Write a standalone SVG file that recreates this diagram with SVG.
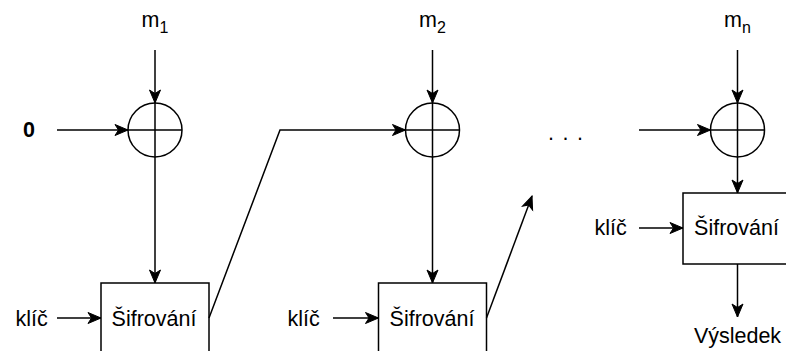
<svg xmlns="http://www.w3.org/2000/svg" width="786" height="351" viewBox="0 0 786 351">
<defs>
<marker id="arr" markerUnits="userSpaceOnUse" viewBox="-14 -7 15 14" refX="0" refY="0" markerWidth="15" markerHeight="14" orient="auto">
<path d="M0,0 L-13,-5.5 L-9.5,0 L-13,5.5 Z" fill="#000" stroke="#000" stroke-width="1" stroke-linejoin="miter"/>
</marker>
</defs>
<style>
text{font-family:"Liberation Sans",Arial,sans-serif;font-size:21.5px;fill:#000}
.c{text-anchor:middle}
.shape{fill:#fff;stroke:#000;stroke-width:1.5}
.ln{fill:none;stroke:#000;stroke-width:1.5}
.edge{fill:none;stroke:#000;stroke-width:1.5;marker-end:url(#arr)}
</style>
<rect width="786" height="351" fill="#fff"/>
<g id="xor1"><circle class="shape" cx="155" cy="130" r="27"/><path class="ln" d="M155,103V157M128,130H182"/></g>
<g id="xor2"><circle class="shape" cx="432.5" cy="130" r="27"/><path class="ln" d="M432.5,103V157M405.5,130H459.5"/></g>
<g id="xor3"><circle class="shape" cx="737.5" cy="130" r="27"/><path class="ln" d="M737.5,103V157M710.5,130H764.5"/></g>
<g id="enc1"><rect class="shape" x="101" y="283" width="108" height="71"/><text class="c" x="154" y="326">Šifrování</text></g>
<g id="enc2"><rect class="shape" x="378.5" y="283" width="108" height="71"/><text class="c" x="432" y="326">Šifrování</text></g>
<g id="enc3"><rect class="shape" x="683" y="193" width="109" height="71"/><text class="c" x="736.5" y="235">Šifrování</text></g>
<g id="labels">
<text class="c" x="155" y="27">m<tspan font-size="16" dy="6">1</tspan></text>
<text class="c" x="432.5" y="27">m<tspan font-size="16" dy="6">2</tspan></text>
<text class="c" x="737.5" y="27">m<tspan font-size="16" dy="6">n</tspan></text>
<text class="c" x="29" y="137" font-weight="bold">0</text>
<text class="c" x="31.5" y="326">klíč</text>
<text class="c" x="303.5" y="326">klíč</text>
<text class="c" x="610.5" y="235">klíč</text>
<text class="c" x="737.5" y="343">Výsledek</text>
<text x="548" y="140" letter-spacing="8.5">...</text>
</g>
<g id="connectors">
<path class="edge" d="M155,50V103"/>
<path class="edge" d="M57,130H128"/>
<path class="edge" d="M155,157V283"/>
<path class="edge" d="M57,318H101"/>
<path class="edge" d="M209,318L280,130H405.5"/>
<path class="edge" d="M432.5,50V103"/>
<path class="edge" d="M432.5,157V283"/>
<path class="edge" d="M333,318H378.5"/>
<path class="edge" d="M486.5,318L532,196"/>
<path class="edge" d="M737.5,50V103"/>
<path class="edge" d="M639,130H710.5"/>
<path class="edge" d="M737.5,157V193"/>
<path class="edge" d="M639,228H683"/>
<path class="edge" d="M737.5,264V317"/>
</g>
</svg>
